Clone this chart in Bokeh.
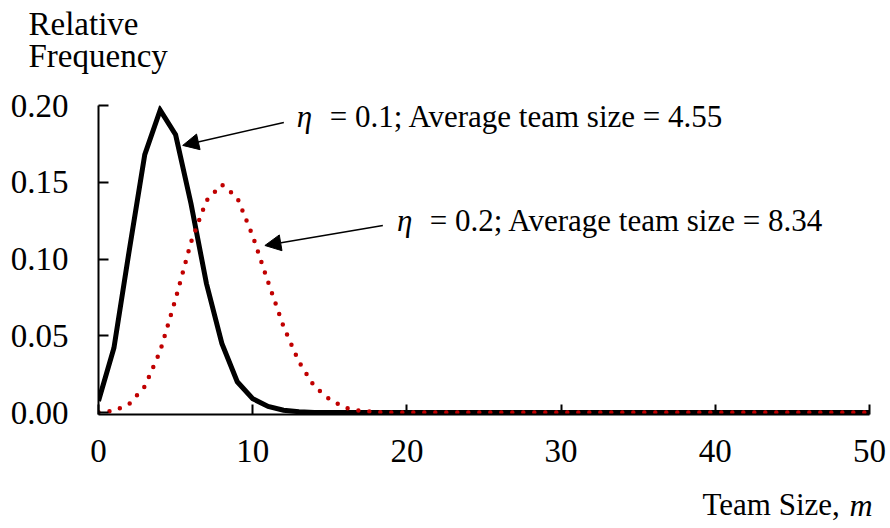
from bokeh.plotting import figure
from bokeh.layouts import column
from bokeh.models import Label, Arrow, NormalHead, Range1d, FixedTicker
from bokeh.embed import file_html
from bokeh.resources import INLINE

team_size = list(range(0, 51))
eta01 = [0.0075, 0.042, 0.106, 0.168, 0.197, 0.181, 0.136, 0.084, 0.045, 0.020,
         0.009, 0.004, 0.0015, 0.0005] + [0.0] * 37
eta02 = [0.0002, 0.001, 0.0057, 0.017, 0.040, 0.074, 0.111, 0.138, 0.1485, 0.140,
         0.115, 0.085, 0.056, 0.033, 0.017, 0.0085, 0.003, 0.001, 0.0003] + [0.0] * 32
x_ticks = [0, 10, 20, 30, 40, 50]
y_ticks = [0.0, 0.05, 0.10, 0.15, 0.20]
y_tick_labels = {0.0: "0.00", 0.05: "0.05", 0.10: "0.10", 0.15: "0.15", 0.20: "0.20"}

FONT = "Liberation Serif"
W = 888
TOP_H = 85
BOT_H = 42
MAIN_TOP = 20
MAIN_FRAME_H = 309
MAIN_BOTTOM = 70


def text_strip(h):
    f = figure(width=W, height=h, output_backend="svg", toolbar_location=None,
               title_location=None, frame_align=False,
               x_range=Range1d(0, W), y_range=Range1d(0, h),
               x_axis_location=None, y_axis_location=None, min_border=0)
    f.outline_line_color = None
    f.grid.visible = False
    return f


def add_text(fig, x, y, text, size, style="normal", align="left"):
    fig.add_layout(Label(x=x, y=y, text=text, text_font=FONT, text_font_size=size,
                         text_font_style=style, text_color="black", text_align=align,
                         text_baseline="alphabetic"))


# y-axis title strip
top = text_strip(TOP_H)
add_text(top, 28, 62, "Relative", "33px")
add_text(top, 28, 29.5, "Frequency", "33px")

# main chart
p = figure(width=W, height=MAIN_TOP + MAIN_FRAME_H + MAIN_BOTTOM,
           output_backend="svg", toolbar_location=None, title_location=None,
           x_range=Range1d(0, 50), y_range=Range1d(-0.0013, 0.2),
           frame_width=771, frame_height=MAIN_FRAME_H,
           min_border_left=98, min_border_right=19, min_border_top=MAIN_TOP,
           min_border_bottom=MAIN_BOTTOM)
p.outline_line_color = None
p.grid.visible = False

for ax in (p.xaxis[0], p.yaxis[0]):
    ax.axis_line_width = 2
    ax.axis_line_color = "black"
    ax.major_tick_line_width = 2
    ax.major_tick_line_color = "black"
    ax.major_tick_in = 10
    ax.major_tick_out = 0
    ax.minor_tick_line_color = None
    ax.major_label_text_font = FONT
    ax.major_label_text_font_size = "33px"
    ax.major_label_text_color = "black"

p.xaxis[0].ticker = FixedTicker(ticks=x_ticks)
p.xaxis[0].major_label_standoff = 25
p.yaxis[0].ticker = FixedTicker(ticks=y_ticks)
p.yaxis[0].major_label_overrides = y_tick_labels
p.yaxis[0].major_label_standoff = 30

p.line(team_size, eta01, line_color="black", line_width=5, line_join="miter")
p.line(team_size, eta02, line_color="#C00000", line_width=4.5, line_dash="0 11",
       line_cap="round")

# annotations
add_text(p, 12.86, 0.1931, "η", "31px", style="italic")
add_text(p, 15.0, 0.1931, "= 0.1; Average team size = 4.55", "31px")
add_text(p, 19.35, 0.1254, "η", "31px", style="italic")
add_text(p, 21.48, 0.1254, "= 0.2; Average team size = 8.34", "31px")

head = dict(size=16, fill_color="black", line_color="black")
p.add_layout(Arrow(x_start=12.02, y_start=0.1889, x_end=5.46, y_end=0.174,
                   line_width=1.5, line_color="black", end=NormalHead(**head)))
p.add_layout(Arrow(x_start=18.44, y_start=0.1218, x_end=10.79, y_end=0.1088,
                   line_width=1.5, line_color="black", end=NormalHead(**head)))

# x-axis title strip
bot = text_strip(BOT_H)
add_text(bot, 702, 22, "Team Size,", "31px")
add_text(bot, 849, 22, "m", "32px", style="italic")

layout = column(top, p, bot, spacing=0)
open("out.html", "w").write(file_html(layout, INLINE))
